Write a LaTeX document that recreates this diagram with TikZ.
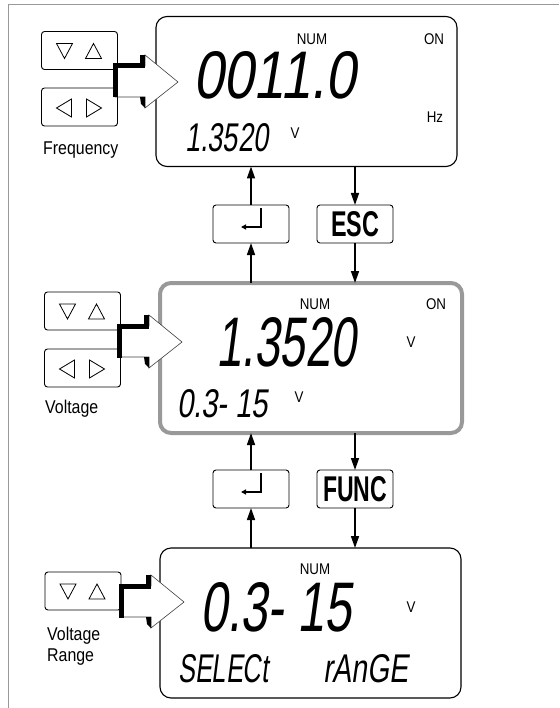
\documentclass[tikz,border=0pt]{standalone}
\usepackage{graphicx}
\usepackage{fontspec}
\setmainfont{Liberation Sans}
\newfontfamily\condfont[FakeStretch=0.86]{Liberation Sans}
\newfontfamily\lcdfont[FakeSlant=0.2]{Liberation Sans}
\usetikzlibrary{arrows.meta}
\tikzset{
  display/.style={draw=black, line width=1.1pt, rounded corners=11pt, fill=white,
    minimum width=301pt, minimum height=150pt, inner sep=0pt, outer sep=0pt},
  keybox/.style={draw=black, line width=0.9pt, rounded corners=3pt, fill=white,
    minimum width=76pt, minimum height=38pt, inner sep=0pt, outer sep=0pt},
  lcd/.style={inner sep=0pt, anchor=south west},
  small/.style={inner sep=0pt, font=\condfont\fontsize{15.5}{15.5}\selectfont},
  lbl/.style={inner sep=0pt, font=\condfont\fontsize{18.5}{21}\selectfont, align=left},
  conn/.style={line width=1.5pt, -{Triangle[length=12pt,width=8pt]}},
  tri/.style={line width=0.8pt, line join=miter},
  blockarrow/.pic={
    \draw[fill=white, draw=black!75, line width=0.6pt]
      (0,-16) -- (30,-16) -- (30,-27) -- (63,0) -- (30,26) -- (30,15) -- (0,15) -- cycle;
    \fill[black] (-2.5,-18.5) rectangle (2.5,15.5);
    \fill[black] (-2.5,-18.5) rectangle (30,-13.5);
    \fill[black] (25,-27) rectangle (30,-13.5);
    \fill[black] (25,15) -- (30,15) -- (30,26) -- (26,22) -- cycle;
  }
}
\newcommand\tdown[2]{\draw[tri] ([shift={(#2-8,-7)}]#1.center) -- ++(16,0) -- ++(-8,15) -- cycle;}
\newcommand\tup[2]{\draw[tri] ([shift={(#2-8,8)}]#1.center) -- ++(16,0) -- ++(-8,-15) -- cycle;}
\newcommand\tleft[2]{\draw[tri] ([shift={(#2-8,1)}]#1.center) -- ++(15,-9) -- ++(0,18) -- cycle;}
\newcommand\tright[2]{\draw[tri] ([shift={(#2+8,1)}]#1.center) -- ++(-15,-9) -- ++(0,18) -- cycle;}
\newcommand\entersym[1]{\draw[line width=1.2pt, -{Triangle[length=5pt,width=5pt]}] ([shift={(10,-16)}]#1.center) -- ++(0,19) -- ++(-20,0);}
\begin{document}
\begin{tikzpicture}[x=1pt,y=-1pt]
\useasboundingbox (0,0) rectangle (559,708);
% frame
\draw[black!40, line width=1pt] (559,5) -- (8,5) -- (8,708);

% displays
\node[display] (topd) at (306.5,91.5) {};
\node[display, draw=black!40, line width=4pt, minimum width=302pt] (midd) at (311,358) {};
\node[display] (botd) at (310.5,623) {};

% left keys
\node[keybox] (k1a) at (79.5,50.5) {};
\node[keybox] (k1b) at (79.5,107) {};
\node[keybox] (k2a) at (82.5,311) {};
\node[keybox] (k2b) at (82.5,368) {};
\node[keybox] (k3a) at (83,591) {};
\tdown{k1a}{-15} \tup{k1a}{14}
\tleft{k1b}{-15} \tright{k1b}{14}
\tdown{k2a}{-15} \tup{k2a}{14}
\tleft{k2b}{-15} \tright{k2b}{14}
\tdown{k3a}{-15} \tup{k3a}{14}

% block arrows
\pic (ba1) at (115,82) {blockarrow};
\pic (ba2) at (119,342) {blockarrow};
\pic (ba3) at (121,602) {blockarrow};

% labels
\node[lbl, anchor=base west] (lf) at (43,155) {Frequency};
\node[lbl, anchor=base west] (lv) at (45,413) {Voltage};
\node[lbl, anchor=north west] (lvr) at (47,627) {Voltage\\Range};

% middle keys
\node[keybox] (ent1) at (251,224) {};
\node[keybox] (esc) at (355,224) {\resizebox{48pt}{25pt}{\bfseries ESC}};
\node[keybox] (ent2) at (251,489) {};
\node[keybox] (func) at (355,489) {\resizebox{64pt}{25pt}{\bfseries FUNC}};
\entersym{ent1}
\entersym{ent2}

% connectors
\draw[conn] (ent1.north) -- (ent1.north |- topd.south);
\draw[conn] (topd.south -| esc.north) -- (esc.north);
\draw[conn] (midd.north -| ent1.south) -- (ent1.south);
\draw[conn] (esc.south) -- (esc.south |- midd.north);
\draw[conn] (ent2.north) -- (ent2.north |- midd.south);
\draw[conn] (midd.south -| func.north) -- (func.north);
\draw[conn] (botd.north -| ent2.south) -- (ent2.south);
\draw[conn] (func.south) -- (func.south |- botd.north);

% top display texts
\node[small] (t1num) at (312,39) {NUM};
\node[small] (t1on) at (434,39) {ON};
\node[small] (t1hz) at (435,117) {Hz};
\node[small] (t1v) at (295,133) {V};
\node[lcd] (t1big) at (193,99) {\resizebox{163pt}{47pt}{\lcdfont 0011.0}};
\node[lcd] (t1sm) at (185,152) {\resizebox{83pt}{28pt}{\lcdfont 1.3520}};

% middle display texts
\node[small] (t2num) at (315,304) {NUM};
\node[small] (t2on) at (436,304) {ON};
\node[small] (t2v) at (411,342) {V};
\node[small] (t2vs) at (299,397) {V};
\node[lcd] (t2big) at (216,367) {\resizebox{140pt}{49pt}{\lcdfont 1.3520}};
\node[lcd] (t2sm) at (177,418) {\resizebox{91pt}{28pt}{\lcdfont 0.3- 15}};

% bottom display texts
\node[small] (t3num) at (315,569) {NUM};
\node[small] (t3v) at (411,607) {V};
\node[lcd] (t3big) at (200,632) {\resizebox{151pt}{49pt}{\lcdfont 0.3- 15}};
\node[lcd] (t3sel) at (178,683) {\resizebox{90pt}{28pt}{\lcdfont SELECt}};
\node[lcd] (t3rng) at (323,683) {\resizebox{85pt}{28pt}{\lcdfont rAnGE}};
\end{tikzpicture}
\end{document}
